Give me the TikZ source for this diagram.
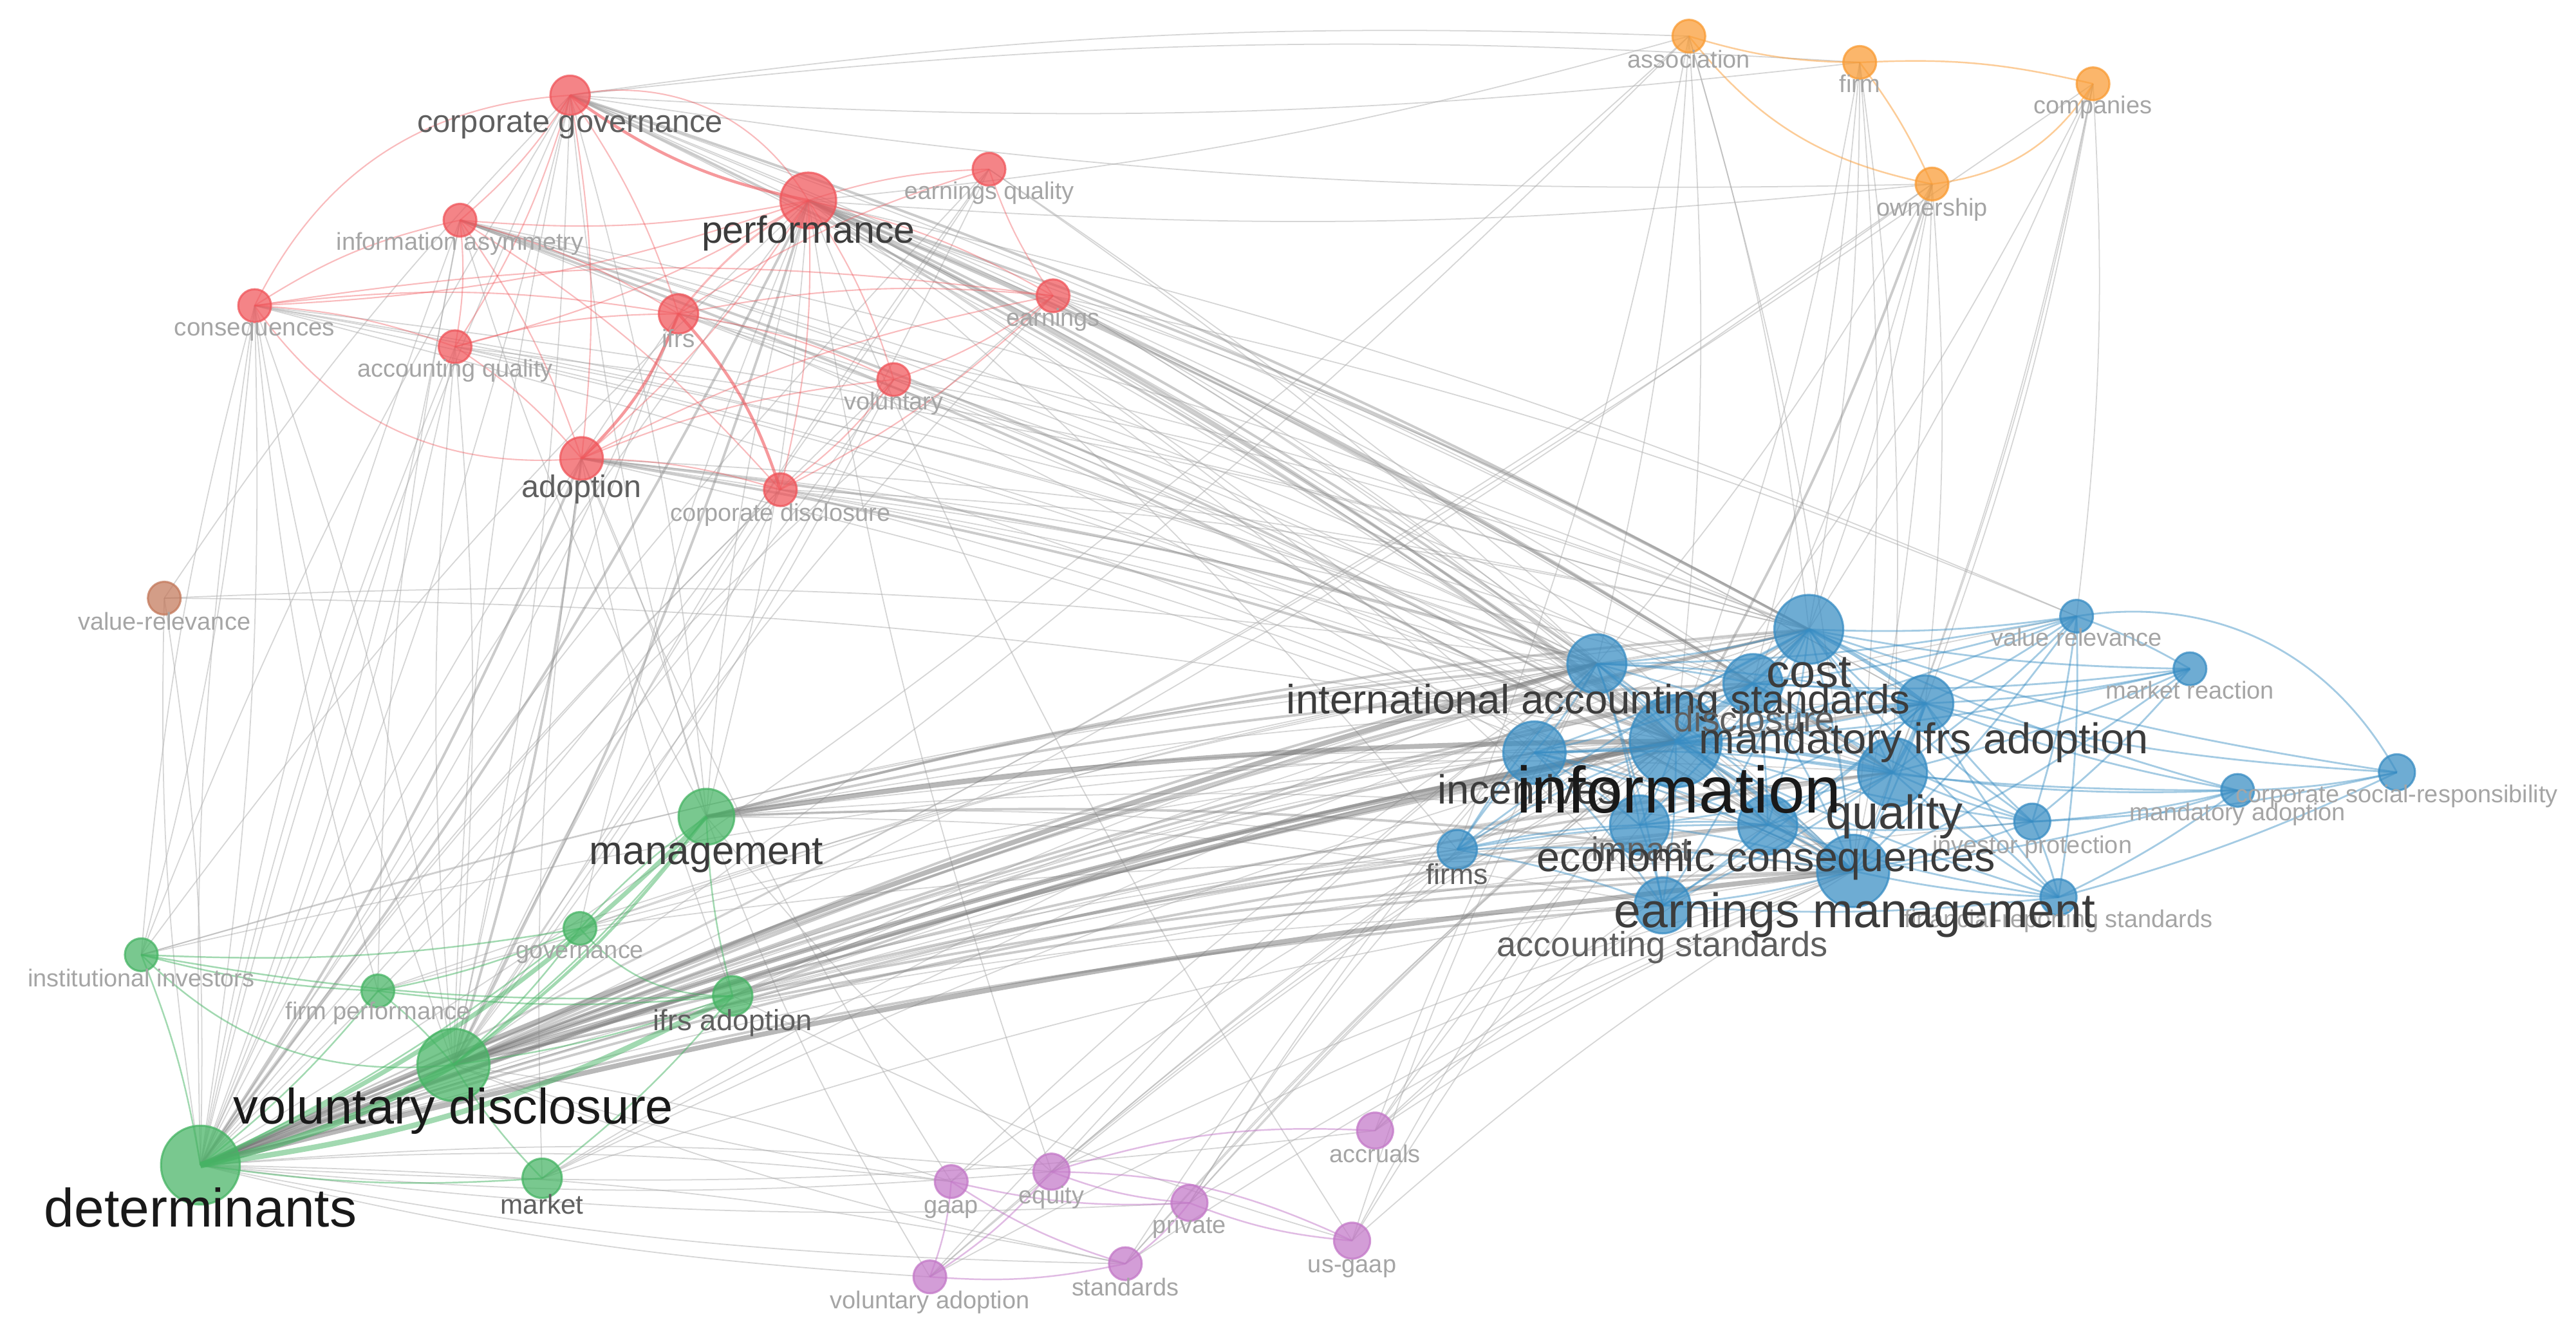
\documentclass[tikz,border=0pt]{standalone}
\usepackage{fontspec}
\setmainfont{Liberation Sans}
\pgfdeclarelayer{bgw}
\pgfdeclarelayer{edges}
\pgfsetlayers{bgw,edges,main}
\definecolor{cred}{RGB}{240,85,90}
\definecolor{cblue}{RGB}{55,140,195}
\definecolor{cgreen}{RGB}{70,180,100}
\definecolor{cpurp}{RGB}{195,120,200}
\definecolor{corng}{RGB}{250,155,50}
\definecolor{cbrown}{RGB}{195,120,90}
\definecolor{tdark}{RGB}{25,25,25}
\definecolor{tmd}{RGB}{60,60,60}
\definecolor{tmid}{RGB}{95,95,95}
\definecolor{tlight}{RGB}{165,165,165}
\newcommand\kwnode[5]{\node[kw, rad=#4, fill=#5, draw=#5] (#1) at (#2,#3) {};}
\newcommand\kwlabel[6]{\node[anchor=base, inner sep=0pt, text=#5, font=\fontsize{#4pt}{#4pt}\selectfont] (#1) at (#2,{#3+0.40*#4}) {#6};}
\begin{document}
\begin{tikzpicture}[x=0.025523cm, y=-0.025523cm,
  kw/.style={circle, inner sep=0pt, line width=0.9pt, fill opacity=0.72, draw opacity=0.75},
  rad/.style={minimum size=#1*0.051046cm},
  gt/.style={draw=black!32, line width=0.5pt, draw opacity=0.5},
  gm/.style={draw=black!45, line width=1.1pt, draw opacity=0.45},
  gk/.style={draw=black!55, line width=2.2pt, draw opacity=0.5},
  be/.style={draw=cblue, line width=0.8pt, draw opacity=0.45},
  bk/.style={draw=cblue, line width=1.6pt, draw opacity=0.5},
  re/.style={draw=cred, line width=0.6pt, draw opacity=0.4},
  rk/.style={draw=cred, line width=1.3pt, draw opacity=0.6},
  ge/.style={draw=cgreen, line width=0.7pt, draw opacity=0.5},
  pe/.style={draw=cpurp, line width=0.7pt, draw opacity=0.5},
  oe/.style={draw=corng, line width=0.7pt, draw opacity=0.5}]
\useasboundingbox (0,0) rectangle (1568,813);
\begin{pgfonlayer}{bgw}
\fill[white] (0,0) rectangle (1568,813);
\end{pgfonlayer}
% ---------------- nodes ----------------
% red
\kwnode{cg}{347}{58}{12}{cred}
\kwnode{perf}{492}{122}{17}{cred}
\kwnode{eq}{602}{103}{10}{cred}
\kwnode{ia}{280}{134}{10}{cred}
\kwnode{cons}{155}{186}{10}{cred}
\kwnode{accq}{277}{211}{10}{cred}
\kwnode{ifrs}{413}{191}{12}{cred}
\kwnode{earn}{641}{180}{10}{cred}
\kwnode{vol}{544}{231}{10}{cred}
\kwnode{adop}{354}{279}{13}{cred}
\kwnode{cd}{475}{298}{10}{cred}
% brown
\kwnode{vr}{100}{364}{10}{cbrown}
% orange
\kwnode{assoc}{1028}{22}{10}{corng}
\kwnode{firm}{1132}{38}{10}{corng}
\kwnode{comp}{1274}{51}{10}{corng}
\kwnode{own}{1176}{112}{10}{corng}
% blue
\kwnode{cost}{1101}{383}{21}{cblue}
\kwnode{ias}{972}{404}{18}{cblue}
\kwnode{disc}{1067}{416}{18}{cblue}
\kwnode{mia}{1172}{428}{17}{cblue}
\kwnode{info}{1020}{451}{28}{cblue}
\kwnode{inc}{934}{458}{19}{cblue}
\kwnode{qual}{1152}{470}{21}{cblue}
\kwnode{imp}{998}{502}{18}{cblue}
\kwnode{econ}{1076}{502}{18}{cblue}
\kwnode{earnm}{1128}{530}{22}{cblue}
\kwnode{acst}{1012}{551}{17}{cblue}
\kwnode{firms}{887}{517}{12}{cblue}
\kwnode{valrel}{1264}{375}{10}{cblue}
\kwnode{mr}{1333}{407}{10}{cblue}
\kwnode{csr}{1459}{470}{11}{cblue}
\kwnode{madop}{1362}{481}{10}{cblue}
\kwnode{ip}{1237}{500}{11}{cblue}
\kwnode{frs}{1253}{546}{11}{cblue}
% green
\kwnode{mgmt}{430}{497}{17}{cgreen}
\kwnode{gov}{353}{565}{10}{cgreen}
\kwnode{ii}{86}{581}{10}{cgreen}
\kwnode{fp}{230}{603}{10}{cgreen}
\kwnode{ifrsad}{446}{606}{12}{cgreen}
\kwnode{vd}{276}{648}{22}{cgreen}
\kwnode{det}{122}{709}{24}{cgreen}
\kwnode{mkt}{330}{717}{12}{cgreen}
% purple
\kwnode{accr}{837}{688}{11}{cpurp}
\kwnode{gaap}{579}{719}{10}{cpurp}
\kwnode{eqty}{640}{713}{11}{cpurp}
\kwnode{priv}{724}{732}{11}{cpurp}
\kwnode{usg}{823}{755}{11}{cpurp}
\kwnode{std}{685}{769}{10}{cpurp}
\kwnode{vadop}{566}{777}{10}{cpurp}
% ---------------- edges ----------------
\begin{pgfonlayer}{edges}
% gray thin
\foreach \s/\tl in {
 det/{imp,perf,cg,cons,ia,firms,gaap,eqty,std,accq,vol,cd,eq,vr,earn,ifrs,valrel,ip},
 vd/{mia,inc,acst,cg,cons,accq,ifrs,earn,cd,eq,gaap,firms},
 mgmt/{qual,mia,perf,cg,econ,inc,acst,ia,firms},
 ifrsad/{cost,econ,ias,adop,qual,mia},
 gov/{info,cost,perf,ias,earnm},
 ii/{info,cost,ias,cg,perf,cons},
 fp/{info,cost,cons,ia},
 mkt/{info,earnm,cost,adop,ias},
 perf/{mia,inc,econ,acst,firms,mgmt,imp,valrel},
 cg/{ias,earnm,qual,disc,assoc,firm,det,vd,mgmt,mia},
 ia/{cost,ias,disc,qual,det,inc},
 cons/{info,cost,ias,earnm,disc,det,ii,vd},
 accq/{info,ias,det,vd,cost},
 ifrs/{info,cost,earnm,ias,det},
 earn/{info,earnm,cost,qual,valrel,ias},
 vol/{info,earnm,cost,det,vd},
 adop/{cost,earnm,disc,mgmt,qual},
 cd/{info,cost,earnm,ias,vd},
 eq/{earnm,info,det,vd},
 vr/{det,ias,info,cg},
 assoc/{info,cost,earnm,ias,perf,det,vd,firms},
 firm/{info,cost,earnm,disc,cg,qual},
 own/{cost,ias,disc,earnm,mia,cg,det,vd,perf},
 comp/{info,cost,earnm,valrel,qual,det,mia},
 accr/{info,earnm,cost,qual,ias,det,econ},
 gaap/{info,ias,vd,adop},
 eqty/{info,earnm,cost,ias,mgmt,det,perf},
 priv/{info,earnm,cost,ias,det,firms},
 usg/{info,earnm,cost,ias,ifrsad,perf},
 std/{info,earnm,cost,ias,det,vd},
 vadop/{info,ias,cost,mgmt,det,earnm}}
 {\foreach \t in \tl {\draw[gt] (\s.center) to[bend left=5] (\t.center);}}
% gray medium
\foreach \a/\b in {det/cost,det/mia,det/qual,det/econ,det/acst,det/inc,det/disc,
 vd/ias,vd/cost,vd/earnm,vd/qual,vd/econ,vd/disc,mgmt/ias,mgmt/cost,mgmt/earnm,mgmt/disc,
 ifrsad/info,ifrsad/earnm,perf/info,perf/cost,perf/ias,perf/earnm,perf/qual,perf/disc,perf/vd,perf/det,
 cg/info,cg/cost,ia/info,ia/earnm,adop/info,adop/ias,adop/det,adop/vd,own/info}
 {\draw[gm] (\a.center) to[bend left=5] (\b.center);}
% gray thick
\foreach \a/\b in {det/info,det/ias,det/earnm,vd/info,mgmt/info}
 {\draw[gk] (\a.center) to[bend left=4] (\b.center);}
% blue
\foreach \a/\b in {cost/ias,cost/disc,cost/info,cost/inc,cost/qual,cost/imp,cost/econ,cost/earnm,cost/acst,
 ias/disc,ias/mia,ias/info,ias/inc,ias/qual,ias/econ,ias/earnm,ias/acst,ias/imp,
 disc/mia,disc/info,disc/qual,disc/earnm,disc/inc,disc/econ,
 mia/econ,mia/earnm,mia/inc,mia/acst,mia/imp,
 info/inc,info/imp,info/econ,info/acst,
 inc/qual,inc/imp,inc/earnm,inc/acst,inc/econ,
 qual/imp,qual/econ,qual/earnm,qual/acst,
 imp/econ,imp/earnm,imp/acst,econ/earnm,econ/acst,earnm/acst,
 firms/info,firms/inc,firms/ias,firms/acst,firms/imp,firms/earnm,firms/econ,firms/cost,
 valrel/cost,valrel/mia,valrel/info,valrel/ip,valrel/earnm,valrel/frs,valrel/qual,valrel/ias,valrel/disc,valrel/mr,
 mr/cost,mr/mia,mr/info,mr/qual,mr/earnm,mr/ip,mr/disc,
 csr/mia,csr/madop,csr/cost,csr/ip,csr/frs,
 madop/mia,madop/qual,madop/ip,madop/info,madop/earnm,madop/frs,madop/cost,
 ip/mia,ip/qual,ip/info,ip/earnm,ip/frs,ip/econ,ip/cost,ip/disc,
 frs/qual,frs/earnm,frs/info,frs/econ,frs/mia,frs/cost,frs/acst}
 {\draw[be] (\a.center) to[bend left=5] (\b.center);}
\foreach \a/\b in {info/mia,info/qual,cost/mia,info/earnm,mia/qual,info/disc}
 {\draw[bk] (\a.center) to[bend left=5] (\b.center);}
\draw[be] (valrel.center) to[bend left=35] (csr.center);
% red
\foreach \a/\b in {cg/ia,cg/accq,cg/ifrs,cg/adop,
 perf/ia,perf/cons,perf/eq,perf/adop,perf/vol,perf/earn,perf/cd,perf/accq,
 ia/ifrs,ia/cd,ia/accq,ia/adop,cons/ifrs,cons/accq,cons/earn,accq/ifrs,accq/adop,
 ifrs/earn,ifrs/vol,ifrs/eq,adop/vol,adop/earn,adop/cd,earn/vol,earn/cd,earn/eq,vol/cd}
 {\draw[re] (\a.center) to[bend left=8] (\b.center);}
\draw[re] (cons.center) to[bend left=30] (cg.center);
\draw[re] (cons.center) to[bend right=30] (adop.center);
\draw[re] (cons.center) to[bend left=10] (ia.center);
\draw[re] (cg.center) to[bend left=35] (perf.center);
\draw[rk] (cg.center) to[bend right=12] (perf.center);
\draw[re,line width=0.9pt] (perf.center) to[bend right=10] (ifrs.center);
\draw[rk] (ifrs.center) to[bend left=12] (adop.center);
\draw[rk] (ifrs.center) to[bend left=12] (cd.center);
% orange
\draw[oe] (assoc.center) to[bend right=8] (firm.center);
\draw[oe] (assoc.center) to[bend right=20] (own.center);
\draw[oe] (firm.center) to[bend left=8] (comp.center);
\draw[oe] (firm.center) to[bend left=6] (own.center);
\draw[oe] (own.center) to[bend right=25] (comp.center);
% green
\draw[ge, line width=3pt, draw opacity=0.6] (det.center) to[bend right=8] (vd.center);
\draw[ge, line width=2pt] (det.center) to[bend right=10] (mgmt.center);
\draw[ge, line width=2.4pt] (det.center) to[bend right=10] (ifrsad.center);
\foreach \a/\b in {det/gov,det/mkt,det/ii,det/fp,vd/mgmt,vd/gov,vd/ifrsad,vd/fp,vd/mkt,
 mgmt/ifrsad,mgmt/gov,ii/fp,fp/ifrsad,ii/ifrsad,ii/gov,fp/gov,mkt/ifrsad}
 {\draw[ge] (\a.center) to[bend right=6] (\b.center);}
\draw[ge, line width=1.3pt] (vd.center) to[bend right=8] (mgmt.center);
\draw[ge] (ii.center) to[bend right=25] (vd.center);
\draw[ge] (gov.center) to[bend right=25] (ifrsad.center);
% purple
\foreach \a/\b in {vadop/gaap,vadop/eqty,vadop/std,gaap/std,gaap/priv,eqty/priv,priv/usg,std/priv}
 {\draw[pe] (\a.center) to[bend right=8] (\b.center);}
\draw[pe] (eqty.center) to[bend left=10] (accr.center);
\draw[pe] (eqty.center) to[bend left=12] (usg.center);
\end{pgfonlayer}
% ---------------- labels ----------------
\kwlabel{cgl}{347}{75}{13.9}{tmid}{corporate governance}
\kwlabel{perfl}{492}{141}{16.8}{tmd}{performance}
\kwlabel{eql}{602}{117}{10.7}{tlight}{earnings quality}
\kwlabel{ial}{280}{148}{10.8}{tlight}{information asymmetry}
\kwlabel{consl}{155}{200}{11}{tlight}{consequences}
\kwlabel{accql}{277}{225}{10.8}{tlight}{accounting quality}
\kwlabel{ifrsl}{413}{207}{11}{tlight}{ifrs}
\kwlabel{earnl}{641}{194}{10.8}{tlight}{earnings}
\kwlabel{voll}{544}{245}{10.8}{tlight}{voluntary}
\kwlabel{adopl}{354}{297}{13.8}{tmid}{adoption}
\kwlabel{cdl}{475}{313}{10.8}{tlight}{corporate disclosure}
\kwlabel{vrl}{100}{379}{10.8}{tlight}{value-relevance}
\kwlabel{assocl}{1028}{37}{10.8}{tlight}{association}
\kwlabel{firml}{1132}{52}{10.8}{tlight}{firm}
\kwlabel{compl}{1274}{65}{10.8}{tlight}{companies}
\kwlabel{ownl}{1176}{127}{10.8}{tlight}{ownership}
\kwlabel{valrell}{1264}{389}{10.8}{tlight}{value relevance}
\kwlabel{mrl}{1333}{421}{10.8}{tlight}{market reaction}
\kwlabel{csrl}{1459}{484}{10.8}{tlight}{corporate social-responsibility}
\kwlabel{madopl}{1362}{495}{10.8}{tlight}{mandatory adoption}
\kwlabel{ipl}{1237}{515}{10.8}{tlight}{investor protection}
\kwlabel{frsl}{1253}{560}{10.8}{tlight}{financial-reporting standards}
\kwlabel{firmsl}{887}{533}{12.7}{tmid}{firms}
\kwlabel{acstl}{1012}{576}{15.4}{tmid}{accounting standards}
\kwlabel{impl}{999}{518}{15}{tmid}{impact}
\kwlabel{costl}{1101}{410}{20.5}{tmd}{cost}
\kwlabel{iasl}{973}{427}{18.1}{tmd}{international accounting standards}
\kwlabel{discl}{1068}{439}{15.8}{tmid}{disclosure}
\kwlabel{mial}{1171}{451}{19}{tmd}{mandatory ifrs adoption}
\kwlabel{incl}{930}{482}{18}{tmd}{incentives}
\kwlabel{qual l}{1153}{496}{21}{tmd}{quality}
\kwlabel{econl}{1075}{523}{18.4}{tmd}{economic consequences}
\kwlabel{earnml}{1129}{556}{21.4}{tmd}{earnings management}
\kwlabel{infol}{1022}{483}{29}{tdark}{information}
\kwlabel{mgmtl}{430}{519}{17.7}{tmd}{management}
\kwlabel{govl}{353}{579}{10.8}{tlight}{governance}
\kwlabel{iil}{86}{596}{10.8}{tlight}{institutional investors}
\kwlabel{fpl}{230}{616}{10.8}{tlight}{firm performance}
\kwlabel{ifrsadl}{446}{622}{12.9}{tmid}{ifrs adoption}
\kwlabel{vdl}{276}{675}{22}{tdark}{voluntary disclosure}
\kwlabel{detl}{122}{737}{23.9}{tdark}{determinants}
\kwlabel{mktl}{330}{734}{12}{tmid}{market}
\kwlabel{accrl}{837}{703}{10.8}{tlight}{accruals}
\kwlabel{gaapl}{579}{734}{10.8}{tlight}{gaap}
\kwlabel{eqtyl}{640}{728}{10.8}{tlight}{equity}
\kwlabel{privl}{724}{746}{10.8}{tlight}{private}
\kwlabel{usgl}{823}{770}{10.8}{tlight}{us-gaap}
\kwlabel{stdl}{685}{784}{10.8}{tlight}{standards}
\kwlabel{vadopl}{566}{792}{10.8}{tlight}{voluntary adoption}
\end{tikzpicture}
\end{document}
